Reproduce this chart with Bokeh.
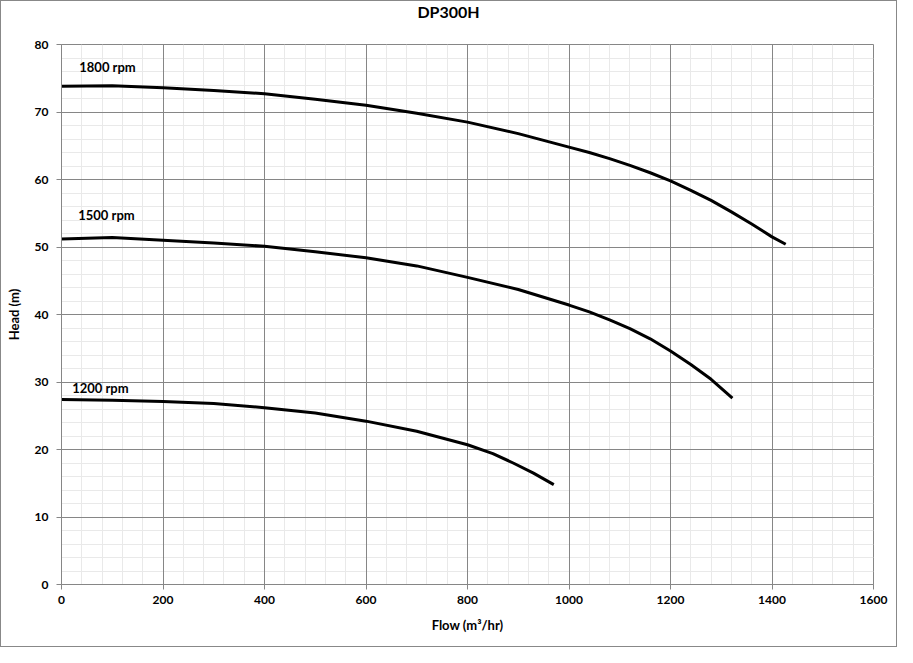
from bokeh.plotting import figure
from bokeh.models import Range1d, FixedTicker, Label, Grid, Div
from bokeh.layouts import column
from bokeh.embed import file_html
from bokeh.resources import INLINE

# pump curves (flow m3/hr, head m)
flow_1800 = [0, 100, 200, 300, 400, 500, 600, 700, 800, 900, 1000, 1040, 1080, 1120, 1160,
             1200, 1240, 1280, 1320, 1360, 1400, 1427]
head_1800 = [73.8, 73.9, 73.6, 73.2, 72.7, 71.9, 71.0, 69.8, 68.5, 66.8, 64.8, 64.0, 63.1, 62.1, 61.0,
             59.8, 58.4, 56.9, 55.2, 53.4, 51.5, 50.4]

flow_1500 = [0, 100, 200, 300, 400, 500, 600, 700, 800, 900, 1000, 1040, 1080, 1120, 1160,
             1200, 1240, 1280, 1322]
head_1500 = [51.2, 51.4, 51.0, 50.6, 50.1, 49.3, 48.4, 47.2, 45.5, 43.7, 41.4, 40.4, 39.2, 37.9, 36.4,
             34.6, 32.6, 30.4, 27.6]

flow_1200 = [0, 100, 200, 300, 400, 500, 600, 700, 800, 850, 890, 930, 970]
head_1200 = [27.4, 27.3, 27.1, 26.8, 26.2, 25.4, 24.2, 22.7, 20.7, 19.4, 18.0, 16.5, 14.8]

speed_labels = ["1800 rpm", "1500 rpm", "1200 rpm"]
label_x = [35, 33, 21]
label_y = [76.6, 54.8, 29.1]

x_ticks = list(range(0, 1601, 200))
y_ticks = list(range(0, 81, 10))
x_minor = [v for v in range(0, 1601, 40) if v % 200]
y_minor = [v for v in range(0, 81, 2) if v % 10]

FONT = "Lato"
W = 895
TITLE_H = 22

# chart title as a strip above the plot, centred on the whole chart like the original
title = Div(text="DP300H", width=W, height=TITLE_H, margin=0,
            styles={"font-family": FONT, "font-weight": "bold", "font-size": "16px",
                    "text-align": "center", "line-height": f"{TITLE_H}px", "color": "black"})

p = figure(width=W, height=645 - TITLE_H, output_backend="svg", toolbar_location=None,
           x_range=Range1d(0, 1600), y_range=Range1d(0, 80),
           min_border_left=60, min_border_right=23, min_border_top=43 - TITLE_H,
           min_border_bottom=62)

p.xaxis.ticker = FixedTicker(ticks=x_ticks)
p.yaxis.ticker = FixedTicker(ticks=y_ticks)

for ax in (p.xaxis, p.yaxis):
    ax.axis_line_color = "#868686"
    ax.major_tick_line_color = "#868686"
    ax.major_tick_out = 5
    ax.major_tick_in = 0
    ax.minor_tick_line_color = None
    ax.major_label_text_font = FONT
    ax.major_label_text_font_style = "bold"
    ax.major_label_text_font_size = "12px"
    ax.major_label_text_color = "black"
    ax.axis_label_text_font = FONT
    ax.axis_label_text_font_style = "bold"
    ax.axis_label_text_font_size = "13px"
    ax.axis_label_text_color = "black"

p.xaxis.axis_label = "Flow (m³/hr)"
p.yaxis.axis_label = "Head (m)"
p.xaxis.major_label_standoff = 6
p.xaxis.axis_label_standoff = 10
p.yaxis.major_label_standoff = 8
p.yaxis.axis_label_standoff = 10

# light minor grid first, then the darker major grid on top of it
p.grid.visible = False
p.add_layout(Grid(dimension=0, ticker=FixedTicker(ticks=x_minor), grid_line_color="#e9e9e9"))
p.add_layout(Grid(dimension=1, ticker=FixedTicker(ticks=y_minor), grid_line_color="#e9e9e9"))
p.add_layout(Grid(dimension=0, ticker=FixedTicker(ticks=x_ticks), grid_line_color="#868686"))
p.add_layout(Grid(dimension=1, ticker=FixedTicker(ticks=y_ticks), grid_line_color="#868686"))
p.outline_line_color = "#868686"

for fx, hy in ((flow_1800, head_1800), (flow_1500, head_1500), (flow_1200, head_1200)):
    p.line(fx, hy, line_color="black", line_width=3, line_join="round")

for t, lx, ly in zip(speed_labels, label_x, label_y):
    p.add_layout(Label(x=lx, y=ly, text=t, text_font=FONT, text_font_style="bold",
                       text_font_size="13px", text_baseline="middle", text_color="black"))

layout = column(title, p, spacing=0, styles={"border": "1px solid #888888"})

open("out.html", "w").write(file_html(layout, INLINE))
